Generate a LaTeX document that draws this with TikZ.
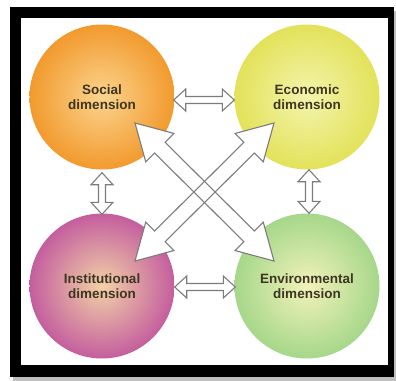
\documentclass[tikz,border=0pt]{standalone}
\usepackage{fontspec}
\setmainfont{Liberation Sans}
\usetikzlibrary{calc}
\definecolor{socout}{HTML}{F29A2E}
\definecolor{socin}{HTML}{FBD48E}
\definecolor{ecoout}{HTML}{E2E25A}
\definecolor{ecoin}{HTML}{F4F4AE}
\definecolor{insout}{HTML}{C45E9E}
\definecolor{insin}{HTML}{F2D2A6}
\definecolor{envout}{HTML}{A6D78A}
\definecolor{envin}{HTML}{F2F2BA}
\definecolor{txt}{HTML}{3E3522}
\definecolor{arrowgray}{HTML}{7C7C7C}
% #1 from, #2 to, #3 shaft half width, #4 head half width, #5 head length, #6 style
\newcommand\hollowarrow[6]{%
  \draw[#6] (#1)
    -- ($(#1)!#5!(#2)!#4!90:(#2)$)
    -- ($(#1)!#5!(#2)!#3!90:(#2)$)
    -- ($(#2)!#5!(#1)!#3!-90:(#1)$)
    -- ($(#2)!#5!(#1)!#4!-90:(#1)$)
    -- (#2)
    -- ($(#2)!#5!(#1)!#4!90:(#1)$)
    -- ($(#2)!#5!(#1)!#3!90:(#1)$)
    -- ($(#1)!#5!(#2)!#3!-90:(#2)$)
    -- ($(#1)!#5!(#2)!#4!-90:(#2)$)
    -- cycle;}
\begin{document}
\begin{tikzpicture}[x=1bp,y=-1bp,
  dim/.style={circle, minimum size=145bp, inner sep=0pt, align=center,
    font=\fontsize{13.5bp}{15.5bp}\selectfont\bfseries, text=txt},
  arrowfill/.style={fill=white, draw=none},
  arrowline/.style={draw=arrowgray, line width=1.1bp, line join=miter, fill=none}]
\useasboundingbox (0,0) rectangle (396,381);
% frame with shadow
\fill[black!25] (13,11) rectangle (396,381);
\fill[black] (10,7) rectangle (394,377);
\fill[white] (21,18) rectangle (388,365);
% circles
\node[dim, shading=radial, inner color=socin, outer color=socout] (soc) at (102,97) {Social\\dimension};
\node[dim, shading=radial, inner color=ecoin, outer color=ecoout] (eco) at (307,97) {Economic\\dimension};
\node[dim, shading=radial, inner color=insin, outer color=insout] (ins) at (102,286) {Institutional\\dimension};
\node[dim, shading=radial, inner color=envin, outer color=envout] (env) at (307,286) {Environmental\\dimension};
% arrow end points
\coordinate (h1a) at ($(soc.east)+(-1,3)$);
\coordinate (h1b) at ($(eco.west)+(0,3)$);
\coordinate (h2a) at ($(ins.east)+(0,1)$);
\coordinate (h2b) at ($(env.west)+(1,1)$);
\coordinate (v1a) at ($(soc.south)+(0,3)$);
\coordinate (v1b) at ($(ins.north)+(0,1)$);
\coordinate (v2a) at ($(eco.south)+(2,0)$);
\coordinate (v2b) at ($(env.north)+(2,0)$);
\coordinate (d1a) at ($(soc.center)+(33,26)$);
\coordinate (d1b) at ($(env.center)+(-33,-25)$);
\coordinate (d2a) at ($(eco.center)+(-33,26)$);
\coordinate (d2b) at ($(ins.center)+(33,-25)$);
% straight arrows
\hollowarrow{h1a}{h1b}{3.5bp}{11bp}{12bp}{fill=white, draw=arrowgray, line width=1.1bp}
\hollowarrow{h2a}{h2b}{3.5bp}{11bp}{12bp}{fill=white, draw=arrowgray, line width=1.1bp}
\hollowarrow{v1a}{v1b}{3.5bp}{11bp}{12bp}{fill=white, draw=arrowgray, line width=1.1bp}
\hollowarrow{v2a}{v2b}{3.5bp}{11bp}{12bp}{fill=white, draw=arrowgray, line width=1.1bp}
% diagonal arrows
\hollowarrow{d1a}{d1b}{7.5bp}{20bp}{35bp}{arrowfill}
\hollowarrow{d2a}{d2b}{7.5bp}{20bp}{35bp}{arrowfill}
\hollowarrow{d1a}{d1b}{7.5bp}{20bp}{35bp}{arrowline}
\hollowarrow{d2a}{d2b}{7.5bp}{20bp}{35bp}{arrowline}
\end{tikzpicture}
\end{document}
